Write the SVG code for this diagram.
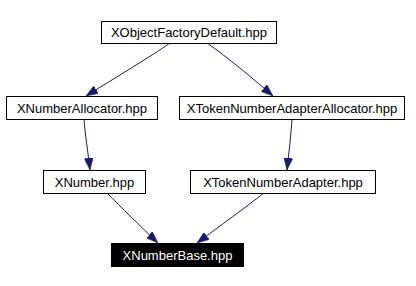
<svg xmlns="http://www.w3.org/2000/svg" width="416" height="286" viewBox="0 0 416 286">
  <style>
    .box { fill: #ffffff; stroke: #000000; stroke-width: 1; }
    .box-dark { fill: #000000; stroke: #000000; stroke-width: 1; }
    .label { font-family: "Liberation Sans", Arial, sans-serif; font-size: 13px; fill: #000000; text-anchor: middle; }
    .label-light { fill: #ffffff; }
    .edge { fill: none; stroke: #191970; stroke-width: 1; marker-end: url(#arrow); }
  </style>
  <defs>
    <marker id="arrow" markerUnits="userSpaceOnUse" markerWidth="12" markerHeight="9" refX="12" refY="4.5" orient="auto">
      <path d="M0,0 L12,4.5 L0,9 z" fill="#191970" stroke="#191970" stroke-width="0.5"/>
    </marker>
  </defs>
  <rect width="416" height="286" fill="#ffffff"/>

  <g id="connectors">
    <path class="edge" d="M170,43 C150,57 118,76 86,96"/>
    <path class="edge" d="M207,43 C227,57 250,76 273,96"/>
    <path class="edge" d="M84,119 C85,134 88,152 90,170"/>
    <path class="edge" d="M292,119 C291,134 289,152 287,170"/>
    <path class="edge" d="M107,193 C121,207 140,226 158,243"/>
    <path class="edge" d="M264,193 C246,207 220,226 197,243"/>
  </g>

  <g id="XObjectFactoryDefault">
    <rect class="box" x="101.5" y="21.5" width="175" height="22"/>
    <text class="label" x="189" y="37">XObjectFactoryDefault.hpp</text>
  </g>

  <g id="XNumberAllocator">
    <rect class="box" x="6.5" y="96.5" width="151" height="23"/>
    <text class="label" x="82" y="112.5">XNumberAllocator.hpp</text>
  </g>

  <g id="XTokenNumberAdapterAllocator">
    <rect class="box" x="179.5" y="96.5" width="225" height="23"/>
    <text class="label" x="292" y="112.5">XTokenNumberAdapterAllocator.hpp</text>
  </g>

  <g id="XNumber">
    <rect class="box" x="43.5" y="170.5" width="102" height="23"/>
    <text class="label" x="94.5" y="186.5">XNumber.hpp</text>
  </g>

  <g id="XTokenNumberAdapter">
    <rect class="box" x="190.5" y="170.5" width="185" height="23"/>
    <text class="label" x="283" y="186.5">XTokenNumberAdapter.hpp</text>
  </g>

  <g id="XNumberBase">
    <rect class="box-dark" x="111.5" y="243.5" width="132" height="23"/>
    <text class="label label-light" x="177.5" y="259.5">XNumberBase.hpp</text>
  </g>
</svg>
